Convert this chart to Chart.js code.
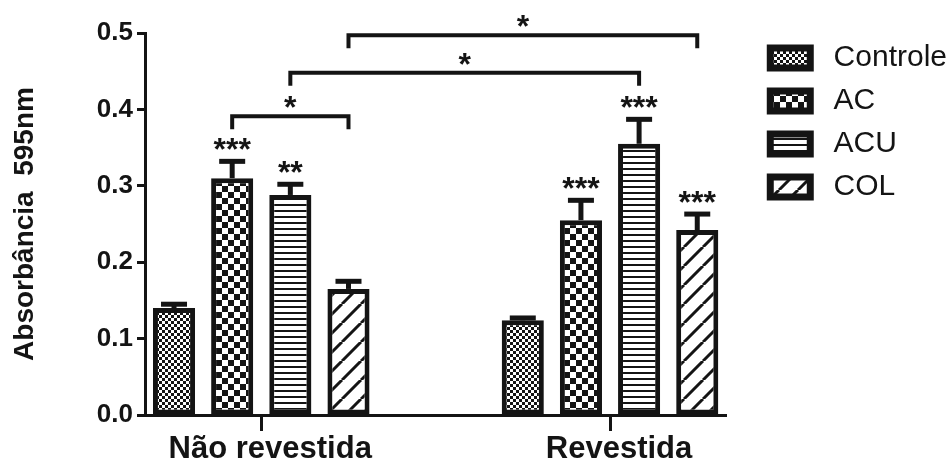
<!DOCTYPE html>
<html>
<head>
<meta charset="utf-8">
<script src="https://cdn.jsdelivr.net/npm/chart.js@4.4.1/dist/chart.umd.min.js"></script>
<style>
  html, body { margin: 0; padding: 0; background: #fff; }
  canvas { display: block; }
</style>
</head>
<body>
<canvas id="chart" width="949" height="464"></canvas>
<script>
// Absorbance at 595 nm per treatment, uncoated vs coated surface
const categories = ['Não revestida', 'Revestida'];
const seriesNames = ['Controle', 'AC', 'ACU', 'COL'];

const controleValues = [0.140, 0.124];
const acValues       = [0.310, 0.255];
const acuValues      = [0.288, 0.355];
const colValues      = [0.165, 0.242];

const controleErrors = [0.005, 0.003];
const acErrors       = [0.022, 0.026];
const acuErrors      = [0.014, 0.032];
const colErrors      = [0.010, 0.021];

const controleMarks = ['', ''];
const acMarks       = ['***', '***'];
const acuMarks      = ['**', '***'];
const colMarks      = ['', '***'];

const yTickValues = [0, 0.1, 0.2, 0.3, 0.4, 0.5];
const yTickLabels = ['0.0', '0.1', '0.2', '0.3', '0.4', '0.5'];

// comparison brackets: [group, series] at each end and the bracket height
const bracketStarts = [[0, 1], [0, 2], [0, 3]];
const bracketEnds   = [[0, 3], [1, 2], [1, 3]];
const bracketLevels = [0.391, 0.448, 0.497];
const bracketMarks  = ['*', '*', '*'];

const INK = '#141414';
const FAMILY = "'Liberation Sans', Arial, Helvetica, sans-serif";

// groups sit at 1 and 4 on a 0..5 axis
const groupSlot = i => 1 + 3 * i;

const canvas = document.getElementById('chart');
const ctx0 = canvas.getContext('2d');

function tile(w, h, paint) {
  const c = document.createElement('canvas');
  c.width = w; c.height = h;
  const g = c.getContext('2d');
  g.fillStyle = '#fff';
  g.fillRect(0, 0, w, h);
  g.fillStyle = INK;
  g.strokeStyle = INK;
  paint(g, w, h);
  return ctx0.createPattern(c, 'repeat');
}

const fineChecks = tile(6, 6, g => { g.fillRect(0, 0, 3, 3); g.fillRect(3, 3, 3, 3); });
const coarseChecks = tile(12, 12, g => { g.fillRect(0, 0, 6, 6); g.fillRect(6, 6, 6, 6); });
const hLines = tile(6, 6, g => { g.fillRect(0, 0, 6, 2); });
const diagonal = tile(19, 19, (g, w, h) => {
  g.lineWidth = 3;
  g.beginPath();
  for (let k = -1; k <= 1; k++) { g.moveTo(k * w, h); g.lineTo(k * w + w, 0); }
  g.stroke();
});

const valueSets = [controleValues, acValues, acuValues, colValues];
const errorSets = [controleErrors, acErrors, acuErrors, colErrors];
const markSets = [controleMarks, acMarks, acuMarks, colMarks];
const fills = [fineChecks, coarseChecks, hLines, diagonal];

const datasets = seriesNames.map((name, s) => ({
  label: name,
  data: categories.map((c, i) => ({ x: groupSlot(i), y: valueSets[s][i] })),
  errors: errorSets[s],
  marks: markSets[s],
  backgroundColor: fills[s],
  borderColor: INK,
  borderWidth: 5,
  borderSkipped: false,
  barPercentage: 0.724,
  categoryPercentage: 0.667,
  xAxisID: 'x',
  yAxisID: 'y'
}));

// error bars, significance stars and comparison brackets
const annotations = {
  id: 'annotations',
  afterDatasetsDraw(chart) {
    const { ctx } = chart;
    const y = chart.scales.y;
    ctx.save();
    ctx.strokeStyle = INK;
    ctx.fillStyle = INK;
    ctx.font = 'bold 32px ' + FAMILY;
    ctx.textAlign = 'center';
    ctx.textBaseline = 'alphabetic';
    chart.data.datasets.forEach((ds, s) => {
      const meta = chart.getDatasetMeta(s);
      meta.data.forEach((bar, i) => {
        const top = y.getPixelForValue(ds.data[i].y + ds.errors[i]);
        ctx.lineWidth = 5;
        ctx.lineCap = 'butt';
        ctx.beginPath();
        ctx.moveTo(bar.x, bar.y);
        ctx.lineTo(bar.x, top);
        ctx.stroke();
        ctx.fillRect(bar.x - 13, top - 2.5, 26, 5);
        if (ds.marks[i]) ctx.fillText(ds.marks[i], bar.x, top - 1);
      });
    });
    bracketLevels.forEach((lvl, b) => {
      const [g0, s0] = bracketStarts[b];
      const [g1, s1] = bracketEnds[b];
      const x0 = chart.getDatasetMeta(s0).data[g0].x;
      const x1 = chart.getDatasetMeta(s1).data[g1].x;
      const yy = y.getPixelForValue(lvl);
      ctx.lineWidth = 4;
      ctx.lineJoin = 'miter';
      ctx.beginPath();
      ctx.moveTo(x0, yy + 13);
      ctx.lineTo(x0, yy);
      ctx.lineTo(x1, yy);
      ctx.lineTo(x1, yy + 13);
      ctx.stroke();
      ctx.fillText(bracketMarks[b], (x0 + x1) / 2, yy + 2);
    });
    ctx.restore();
  }
};

// invisible axes that only reserve room next to the plot
const spacer = { display: false, ticks: { display: false }, grid: { display: false }, border: { display: false } };

new Chart(canvas, {
  type: 'bar',
  data: { datasets },
  plugins: [annotations],
  options: {
    responsive: false,
    animation: false,
    devicePixelRatio: 1,
    layout: { padding: { top: 30, right: -8, bottom: 0, left: 0 } },
    plugins: {
      tooltip: { enabled: false },
      legend: {
        position: 'right',
        align: 'start',
        labels: {
          boxWidth: 40,
          boxHeight: 20,
          padding: 13,
          color: INK,
          font: { family: FAMILY, size: 30 },
          generateLabels: chart =>
            Chart.defaults.plugins.legend.labels.generateLabels(chart)
              .map(item => ({ ...item, text: ' ' + item.text, lineWidth: 7 }))
        }
      }
    },
    scales: {
      x: {
        type: 'linear',
        position: 'bottom',
        offset: false,
        min: 0,
        max: 5,
        afterBuildTicks: sc => { sc.ticks = categories.map((c, i) => ({ value: groupSlot(i) })); },
        afterFit: sc => { sc.height = 49; },
        ticks: {
          callback: (v, i) => categories[i],
          autoSkip: false,
          maxRotation: 0,
          padding: 0,
          labelOffset: 9,
          color: INK,
          font: { family: FAMILY, size: 31, weight: 'bold' }
        },
        grid: { display: true, offset: false, drawOnChartArea: false, drawTicks: true, tickLength: 16, tickWidth: 3, tickColor: INK, color: INK },
        border: { display: true, color: INK, width: 3 }
      },
      xTop: Object.assign({ type: 'linear', position: 'top', afterFit: sc => { sc.height = 3; } }, spacer),
      y: {
        type: 'linear',
        position: 'left',
        min: 0,
        max: 0.5,
        afterBuildTicks: sc => { sc.ticks = yTickValues.map(v => ({ value: v })); },
        afterFit: sc => { sc.width = 145; },
        ticks: {
          callback: (v, i) => yTickLabels[i],
          padding: 4,
          color: INK,
          font: { family: FAMILY, size: 26, weight: 'bold' }
        },
        grid: { display: true, drawOnChartArea: false, drawTicks: true, tickLength: 8, tickWidth: 3, tickColor: INK, color: INK },
        border: { display: true, color: INK, width: 3 },
        title: {
          display: true,
          text: 'Absorbância  595nm',
          color: INK,
          font: { family: FAMILY, size: 28, weight: 'bold' },
          padding: { top: 8, bottom: 0 }
        }
      },
      yRight: Object.assign({ type: 'linear', position: 'right', afterFit: sc => { sc.width = 31; } }, spacer)
    }
  }
});
</script>
</body>
</html>
